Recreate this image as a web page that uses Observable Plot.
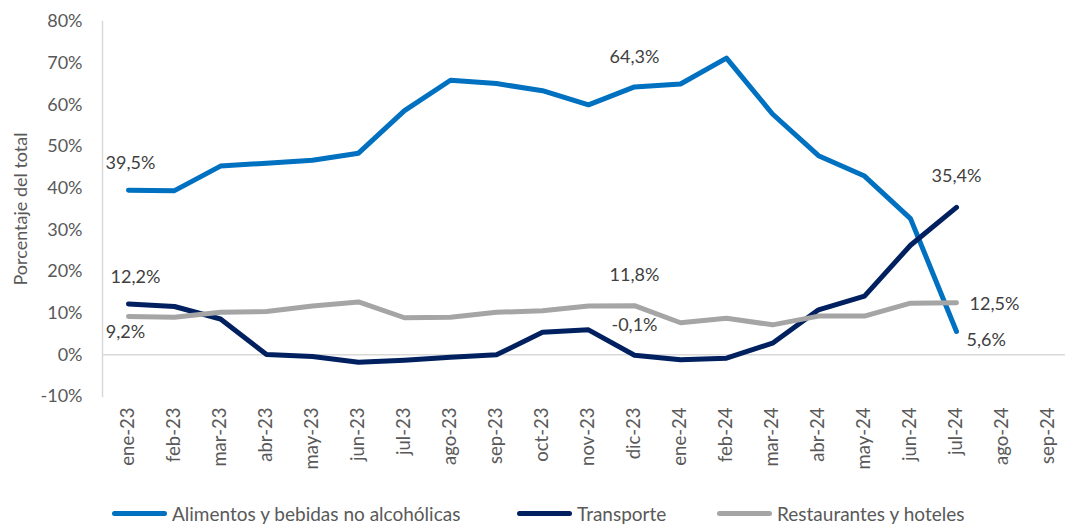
<!DOCTYPE html>
<html>
<head>
<meta charset="utf-8">
<script src="https://cdn.jsdelivr.net/npm/d3@7"></script>
<script src="https://cdn.jsdelivr.net/npm/@observablehq/plot@0.6"></script>
<style>
  html, body { margin: 0; padding: 0; background: #fff; overflow: hidden; }
  #wrap { position: relative; width: 1065px; height: 524px; font-family: Lato, "Open Sans", sans-serif; }
  .leg { position: absolute; top: 501px; display: flex; align-items: center; font-size: 19px; color: #595959; white-space: nowrap; height: 24px; }
  .sw { display: inline-block; width: 55px; height: 5px; border-radius: 3px; margin-right: 5px; }
</style>
</head>
<body>
<div id="wrap"></div>
<script>
const months = ["ene-23","feb-23","mar-23","abr-23","may-23","jun-23","jul-23","ago-23","sep-23","oct-23","nov-23","dic-23","ene-24","feb-24","mar-24","abr-24","may-24","jun-24","jul-24","ago-24","sep-24"];
const seriesNames = ["Alimentos y bebidas no alcohólicas", "Transporte", "Restaurantes y hoteles"];
const seriesColors = ["#0070C0", "#002060", "#A5A5A5"];
const alimentos = [39.5, 39.4, 45.3, 46.0, 46.7, 48.4, 58.6, 65.9, 65.1, 63.4, 60.0, 64.3, 65.0, 71.2, 57.8, 47.8, 42.9, 32.7, 5.6];
const transporte = [12.2, 11.6, 8.6, 0.1, -0.4, -1.8, -1.3, -0.6, 0.0, 5.4, 6.0, -0.1, -1.2, -0.8, 2.8, 10.8, 14.1, 26.3, 35.4];
const restaurantes = [9.2, 9.0, 10.2, 10.4, 11.7, 12.7, 8.9, 9.0, 10.2, 10.6, 11.7, 11.8, 7.7, 8.8, 7.2, 9.3, 9.3, 12.4, 12.5];
const yTicks = [-10, 0, 10, 20, 30, 40, 50, 60, 70, 80];

const seriesValues = [alimentos, transporte, restaurantes];
const data = seriesValues.flatMap((vals, s) => vals.map((v, i) => ({series: seriesNames[s], month: months[i], value: v})));
const pick = (s, m) => data.filter(d => d.series === seriesNames[s] && d.month === m);
const fmt = d => d.value.toFixed(1).replace(".", ",") + "%";

const labelStyle = {x: "month", y: "value", text: fmt, fill: "#404040", fontSize: 18, fontFamily: "Lato, 'Open Sans', sans-serif"};

const chart = Plot.plot({
  width: 1065,
  height: 490,
  marginTop: 21,
  marginBottom: 94,
  marginLeft: 102,
  marginRight: 0,
  style: {fontFamily: "Lato, 'Open Sans', sans-serif", fontSize: "18px", color: "#595959", background: "#fff"},
  x: {type: "point", domain: months, padding: 0.5, range: [102, 1073]},
  y: {domain: [-10, 80]},
  color: {domain: seriesNames, range: seriesColors},
  marks: [
    Plot.frame({anchor: "left", stroke: "#d9d9d9", strokeWidth: 1.5}),
    Plot.ruleY([0], {stroke: "#d9d9d9", strokeWidth: 1.5}),
    Plot.axisY({ticks: yTicks, tickFormat: d => d + "%", tickSize: 0, tickPadding: 20, fontSize: 18, fill: "#595959",
      label: "Porcentaje del total", labelAnchor: "center", labelOffset: 88, labelArrow: "none"}),
    Plot.axisX({ticks: months, tickRotate: -90, tickSize: 0, tickPadding: 11, fontSize: 18.5, fill: "#595959", label: null}),
    Plot.line(data, {x: "month", y: "value", z: "series", stroke: "series", strokeWidth: 5, strokeLinecap: "round", strokeLinejoin: "round"}),
    Plot.text(pick(0, "ene-23"), {...labelStyle, dx: 2, dy: -27}),
    Plot.text(pick(1, "ene-23"), {...labelStyle, dx: 7, dy: -27}),
    Plot.text(pick(2, "ene-23"), {...labelStyle, dx: -3, dy: 16}),
    Plot.text(pick(0, "dic-23"), {...labelStyle, dx: 0, dy: -30}),
    Plot.text(pick(2, "dic-23"), {...labelStyle, dx: 0, dy: -30}),
    Plot.text(pick(1, "dic-23"), {...labelStyle, dx: 0, dy: -30}),
    Plot.text(pick(1, "jul-24"), {...labelStyle, dx: 0, dy: -31}),
    Plot.text(pick(2, "jul-24"), {...labelStyle, textAnchor: "start", dx: 13, dy: 1}),
    Plot.text(pick(0, "jul-24"), {...labelStyle, textAnchor: "start", dx: 10, dy: 9})
  ]
});

const wrap = document.getElementById("wrap");
wrap.appendChild(chart);
const legLeft = [112, 517, 717];
seriesNames.forEach((name, i) => {
  const item = document.createElement("div");
  item.className = "leg";
  item.style.left = legLeft[i] + "px";
  const sw = document.createElement("span");
  sw.className = "sw";
  sw.style.background = seriesColors[i];
  const t = document.createElement("span");
  t.textContent = name;
  item.appendChild(sw);
  item.appendChild(t);
  wrap.appendChild(item);
});
</script>
</body>
</html>
